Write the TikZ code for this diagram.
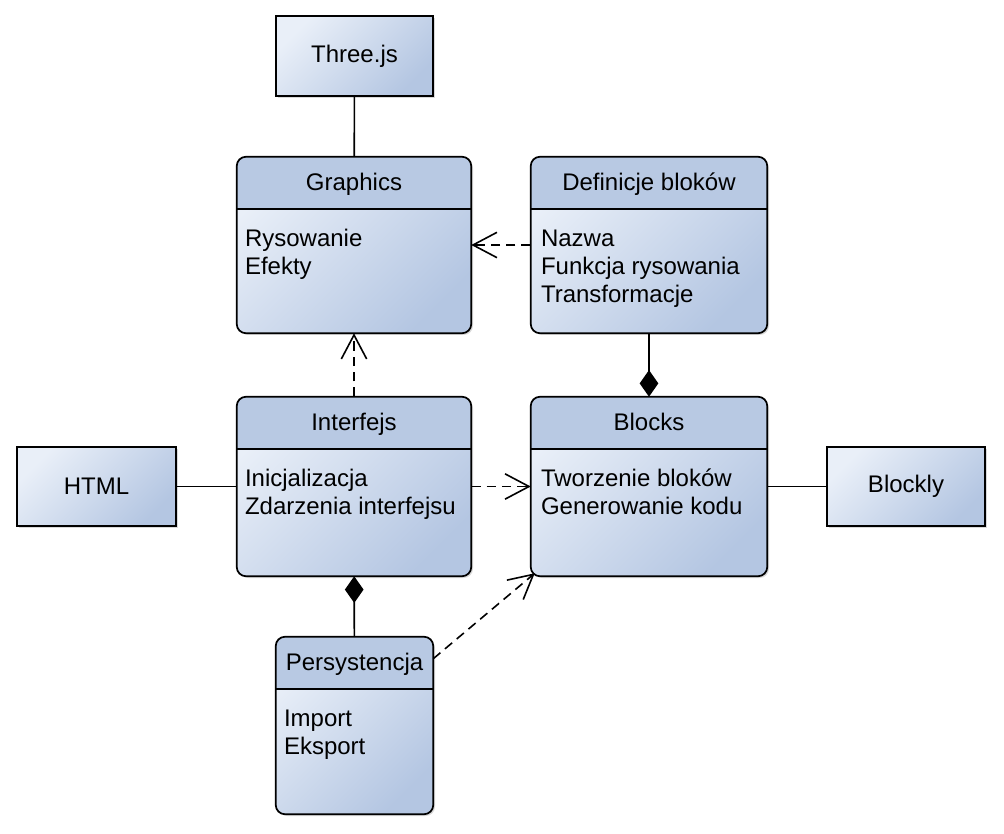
\documentclass[tikz,border=0pt]{standalone}
\usepackage{fontspec}
\setmainfont{Liberation Sans}
\usetikzlibrary{
  positioning, fit, calc, shadows, arrows.meta
}
\definecolor{boxlight}{RGB}{233,239,248}
\definecolor{boxdark}{RGB}{180,198,226}
\definecolor{headblue}{RGB}{184,201,227}
\tikzset{
  classbox/.style={
    rounded corners=7pt, inner sep=0pt,
    top color=boxlight, bottom color=boxdark, shading angle=45,
    drop shadow={opacity=0.3, shadow xshift=1.5pt, shadow yshift=-1.5pt}
  },
  classline/.style={draw=black, line width=1.3pt, rounded corners=7pt},
  sepline/.style={draw=black, line width=1.3pt},
  libbox/.style={
    draw=black, line width=1.3pt, inner sep=0pt,
    top color=boxlight, bottom color=boxdark, shading angle=45,
    drop shadow={opacity=0.3, shadow xshift=1.5pt, shadow yshift=-1.5pt}
  },
  libname/.style={font=\fontsize{18}{21}\selectfont},
  classname/.style={anchor=base, inner sep=0pt, font=\fontsize{18}{21}\selectfont},
  % base anchor of a multi-line node sits on its last line
  classitems/.style={anchor=base west, inner sep=0pt, align=left, font=\fontsize{18}{21}\selectfont},
  assoc/.style={line width=1.2pt},
  dep/.style={line width=1.2pt, dash pattern=on 7pt off 4.5pt, -{Straight Barb[length=18pt, width=19pt]}},
  comp/.style={line width=1.2pt, -{Diamond[length=20pt, width=14pt]}}
}

\begin{document}
\begin{tikzpicture}[x=0.75pt, y=-0.75pt]
\useasboundingbox (0,0) rectangle (1004,834);

%% Graphics
\node[classbox, fit={(237,157) (471,333)}] (gfx) {};
\begin{scope}
  \clip (gfx.north west) rectangle ($(gfx.north east)+(0,52)$);
  \fill[headblue, rounded corners=7pt] (gfx.north west) rectangle (gfx.south east);
\end{scope}
\draw[classline] (gfx.north west) rectangle (gfx.south east);
\draw[sepline] ($(gfx.north west)+(0,52)$) -- ($(gfx.north east)+(0,52)$);
\node[classname] at ($(gfx.north)+(0,34)$) {Graphics};
\node[classitems] at ($(gfx.north west)+(8,118)$) {Rysowanie\\Efekty};

%% Definicje blokow
\node[classbox, fit={(531,157) (767,333)}] (defs) {};
\begin{scope}
  \clip (defs.north west) rectangle ($(defs.north east)+(0,52)$);
  \fill[headblue, rounded corners=7pt] (defs.north west) rectangle (defs.south east);
\end{scope}
\draw[classline] (defs.north west) rectangle (defs.south east);
\draw[sepline] ($(defs.north west)+(0,52)$) -- ($(defs.north east)+(0,52)$);
\node[classname] at ($(defs.north)+(0,34)$) {Definicje bloków};
\node[classitems] at ($(defs.north west)+(10,146)$) {Nazwa\\Funkcja rysowania\\Transformacje};

%% Interfejs
\node[classbox, fit={(237,397) (471,576)}] (intf) {};
\begin{scope}
  \clip (intf.north west) rectangle ($(intf.north east)+(0,52)$);
  \fill[headblue, rounded corners=7pt] (intf.north west) rectangle (intf.south east);
\end{scope}
\draw[classline] (intf.north west) rectangle (intf.south east);
\draw[sepline] ($(intf.north west)+(0,52)$) -- ($(intf.north east)+(0,52)$);
\node[classname] at ($(intf.north)+(0,34)$) {Interfejs};
\node[classitems] at ($(intf.north west)+(8,118)$) {Inicjalizacja\\Zdarzenia interfejsu};

%% Blocks
\node[classbox, fit={(531,397) (767,576)}] (blk) {};
\begin{scope}
  \clip (blk.north west) rectangle ($(blk.north east)+(0,52)$);
  \fill[headblue, rounded corners=7pt] (blk.north west) rectangle (blk.south east);
\end{scope}
\draw[classline] (blk.north west) rectangle (blk.south east);
\draw[sepline] ($(blk.north west)+(0,52)$) -- ($(blk.north east)+(0,52)$);
\node[classname] at ($(blk.north)+(0,34)$) {Blocks};
\node[classitems] at ($(blk.north west)+(10,118)$) {Tworzenie bloków\\Generowanie kodu};

%% Persystencja
\node[classbox, fit={(276,637) (433,814)}] (pers) {};
\begin{scope}
  \clip (pers.north west) rectangle ($(pers.north east)+(0,52)$);
  \fill[headblue, rounded corners=7pt] (pers.north west) rectangle (pers.south east);
\end{scope}
\draw[classline] (pers.north west) rectangle (pers.south east);
\draw[sepline] ($(pers.north west)+(0,52)$) -- ($(pers.north east)+(0,52)$);
\node[classname] at ($(pers.north)+(0,34)$) {Persystencja};
\node[classitems] at ($(pers.north west)+(8,118)$) {Import\\Eksport};

%% libraries
\node[libbox, fit={(276,16) (433,96)}, label={[libname]center:Three.js}] (three) {};
\node[libbox, fit={(17,447) (176,526)}, label={[libname]center:HTML}] (html) {};
\node[libbox, fit={(827,447) (985,526)}, label={[libname]center:Blockly}] (blockly) {};

%% connectors
\draw[assoc] (three) -- (gfx);
\draw[assoc] (html) -- (intf);
\draw[assoc] (blk) -- (blockly);
\draw[dep] (defs) -- (gfx);
\draw[dep] (intf) -- (gfx);
\draw[dep] (intf) -- (blk);
\draw[dep] ($(pers.north east)+(0,22)$) -- ($(blk.south west)+(4,-3)$);
\draw[comp] (defs) -- (blk);
\draw[comp] (pers) -- (intf);

\end{tikzpicture}
\end{document}
